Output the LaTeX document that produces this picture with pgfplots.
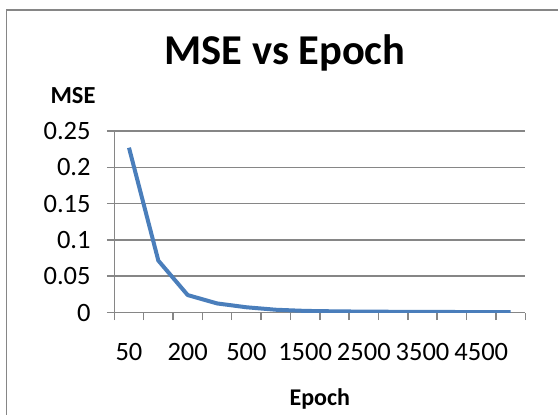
\documentclass[border=0pt]{standalone}
\usepackage{fontspec}
\setmainfont{Carlito}
\usepackage{pgfplots}
\pgfplotsset{compat=1.18}
\definecolor{excelblue}{HTML}{4A7EBB}
\definecolor{axgray}{HTML}{868686}
\begin{document}
\begin{tikzpicture}
\useasboundingbox (0,0) rectangle (558bp,415bp);
\begin{scope}
\clip (0,0) rectangle (558bp,415bp);
\draw[axgray, line width=1.5bp] (6.6bp,-10bp) -- (6.6bp,405bp) -- (570bp,405bp);
\end{scope}
\begin{axis}[
  at={(114.3bp,102.5bp)}, anchor=south west,
  scale only axis, width=411bp, height=181.5bp,
  xmin=0.5, xmax=14.5, ymin=0, ymax=0.25,
  axis x line*=bottom, axis y line*=left,
  axis line style={axgray, line width=1.5bp, -},
  xtick={0.5,1.5,...,14.5},
  x tick label as interval,
  xticklabels={50,,200,,500,,1500,,2500,,3500,,4500,},
  ytick={0,0.05,0.1,0.15,0.2,0.25},
  yticklabels={0,0.05,0.1,0.15,0.2,0.25},
  ymajorgrids, xmajorgrids=false,
  major grid style={axgray, line width=1.5bp},
  tick style={axgray, line width=1.5bp},
  tick align=outside, major tick length=7.5bp,
  /pgf/number format/assume math mode=true,
  ticklabel style={font=\fontsize{26.5bp}{29bp}\selectfont, text=black},
  xticklabel style={anchor=base, inner sep=0pt, yshift=-40bp},
  yticklabel style={anchor=east, inner sep=0pt, xshift=-16bp},
  title={MSE vs Epoch},
  title style={font=\fontsize{42.5bp}{46bp}\selectfont\bfseries, at={(axis description cs:0.4153,1.336)}, anchor=base, inner sep=0pt},
  ylabel={MSE},
  ylabel style={font=\fontsize{24.5bp}{27bp}\selectfont\bfseries, at={(axis description cs:-0.1005,1.149)}, anchor=base, rotate=-90, inner sep=0pt},
  xlabel={Epoch},
  xlabel style={font=\fontsize{24bp}{27bp}\selectfont\bfseries, at={(axis description cs:0.5,-0.515)}, anchor=base, inner sep=0pt},
]
\addplot[excelblue, line width=4bp, line join=round] coordinates {
(1,0.227) (2,0.0715) (3,0.024) (4,0.0125) (5,0.0072) (6,0.0038) (7,0.0022)
(8,0.0016) (9,0.0012) (10,0.0010) (11,0.0008) (12,0.0007) (13,0.0006) (14,0.0005)
};
\end{axis}
\end{tikzpicture}
\end{document}
